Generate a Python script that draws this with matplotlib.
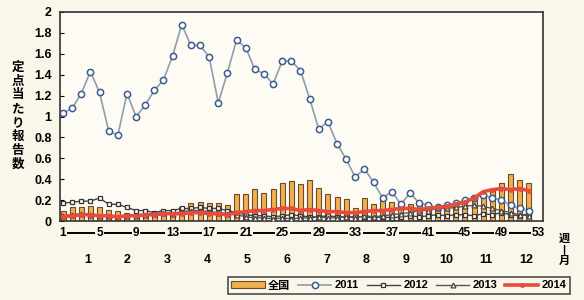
import matplotlib
matplotlib.use("Agg")
import matplotlib.pyplot as plt
import matplotlib.transforms as mtransforms
import numpy as np

plt.rcParams['font.family'] = ['Liberation Sans', 'Noto Sans CJK JP', 'DejaVu Sans']
plt.rcParams['font.weight'] = 'bold'

weeks = list(range(1, 53))
national = [0.10, 0.13, 0.13, 0.14, 0.13, 0.11, 0.10, 0.08, 0.07, 0.07, 0.08, 0.08, 0.10,
            0.13, 0.17, 0.18, 0.17, 0.17, 0.15, 0.26, 0.26, 0.31, 0.27, 0.31, 0.36, 0.38,
            0.35, 0.39, 0.32, 0.26, 0.23, 0.21, 0.12, 0.22, 0.16, 0.20, 0.18, 0.16, 0.16,
            0.16, 0.14, 0.14, 0.15, 0.17, 0.19, 0.22, 0.26, 0.29, 0.36, 0.45, 0.39, 0.36]
y2011 = [1.03, 1.08, 1.22, 1.43, 1.23, 0.86, 0.82, 1.22, 1.00, 1.11, 1.25, 1.35, 1.58,
         1.88, 1.68, 1.68, 1.57, 1.13, 1.42, 1.73, 1.66, 1.45, 1.41, 1.31, 1.53, 1.53,
         1.44, 1.17, 0.88, 0.95, 0.74, 0.59, 0.42, 0.50, 0.37, 0.22, 0.28, 0.16, 0.27,
         0.17, 0.15, 0.13, 0.15, 0.17, 0.20, 0.22, 0.25, 0.22, 0.20, 0.15, 0.12, 0.10]
y2012 = [0.17, 0.18, 0.19, 0.19, 0.22, 0.16, 0.16, 0.13, 0.10, 0.10, 0.08, 0.10, 0.10,
         0.12, 0.12, 0.13, 0.12, 0.12, 0.10, 0.08, 0.06, 0.05, 0.05, 0.04, 0.05, 0.06,
         0.05, 0.04, 0.04, 0.05, 0.04, 0.04, 0.04, 0.04, 0.03, 0.04, 0.03, 0.04, 0.05,
         0.04, 0.05, 0.06, 0.05, 0.06, 0.06, 0.05, 0.07, 0.06, 0.08, 0.06, 0.05, 0.07]
y2013 = [0.05, 0.06, 0.07, 0.06, 0.05, 0.05, 0.04, 0.05, 0.05, 0.06, 0.07, 0.08, 0.07,
         0.09, 0.10, 0.10, 0.09, 0.08, 0.07, 0.06, 0.04, 0.03, 0.03, 0.02, 0.03, 0.02,
         0.03, 0.03, 0.04, 0.03, 0.03, 0.04, 0.03, 0.05, 0.04, 0.05, 0.06, 0.07, 0.08,
         0.10, 0.10, 0.12, 0.12, 0.13, 0.14, 0.15, 0.14, 0.12, 0.10, 0.08, 0.06, 0.05]
y2014 = [0.04, 0.05, 0.06, 0.06, 0.05, 0.05, 0.04, 0.05, 0.05, 0.06, 0.06, 0.07, 0.07,
         0.07, 0.08, 0.08, 0.07, 0.07, 0.06, 0.08, 0.09, 0.10, 0.10, 0.11, 0.12, 0.12,
         0.10, 0.11, 0.10, 0.09, 0.09, 0.08, 0.08, 0.09, 0.10, 0.10, 0.11, 0.12, 0.12,
         0.11, 0.12, 0.13, 0.14, 0.16, 0.18, 0.22, 0.28, 0.30, 0.31, 0.30, 0.31, 0.29]

week_ticks = [1, 5, 9, 13, 17, 21, 25, 29, 33, 37, 41, 45, 49, 53]
month_labels = ['1', '2', '3', '4', '5', '6', '7', '8', '9', '10', '11', '12']
y_ticks = [0, 0.2, 0.4, 0.6, 0.8, 1.0, 1.2, 1.4, 1.6, 1.8, 2.0]
y_ticklabels = ['0', '0.2', '0.4', '0.6', '0.8', '1', '1.2', '1.4', '1.6', '1.8', '2']
legend_labels = ['全国', '2011', '2012', '2013', '2014']

BG = '#f9f6ea'
fig = plt.figure(figsize=(5.84, 3.0), dpi=100, facecolor=BG)
ax = fig.add_axes([60/584, 1 - 221/300, 483/584, 209/300], facecolor='#fdfbf4')

h0 = ax.bar(weeks, national, width=0.55, color='#f0b04e', edgecolor='#6e4a2c', linewidth=0.8,
            label=legend_labels[0], zorder=2)
h1, = ax.plot(weeks, y2011, color='#8d9eac', lw=1.2, marker='o', ms=4.5, mfc='white',
              mec='#3b5c8c', mew=1.1, label=legend_labels[1], zorder=4)
h2, = ax.plot(weeks, y2012, color='#444444', lw=1.0, marker='s', ms=3.5, mfc='white',
              mec='#333333', mew=0.9, label=legend_labels[2], zorder=3)
h3, = ax.plot(weeks, y2013, color='#555555', lw=1.0, marker='^', ms=3.5, mfc='white',
              mec='#444444', mew=0.9, label=legend_labels[3], zorder=3)
h4, = ax.plot(weeks, y2014, color='#ea4a3c', lw=2.6, marker='o', ms=2.5, mfc='#ea4a3c',
              mec='#ea4a3c', label=legend_labels[4], zorder=5)

ax.set_ylim(0, 2)
ax.set_xlim(0.67, 53.55)
ax.set_yticks(y_ticks)
ax.set_yticklabels(y_ticklabels, fontsize=9, fontweight='bold')
ax.tick_params(axis='y', direction='in', length=3, width=0.8, pad=6)
ax.set_xticks([])
for s in ['left', 'top', 'right', 'bottom']:
    ax.spines[s].set_color('#333333')
    ax.spines[s].set_linewidth(1.2)

trans = mtransforms.blended_transform_factory(ax.transData, ax.transAxes)
ax.plot([week_ticks[0], week_ticks[-1]], [-0.057, -0.057], color='black', lw=1.4,
        transform=trans, clip_on=False)
for w in week_ticks:
    ax.text(w, -0.057, str(w), transform=trans, ha='center', va='center', fontsize=8.5,
            fontweight='bold', bbox=dict(facecolor=BG, edgecolor='none', pad=0.6))
for i, m in enumerate(month_labels):
    ax.text(3.7 + i * 4.36, -0.187, m, transform=trans, ha='center', va='center',
            fontsize=9, fontweight='bold')

fig.text(18/584, 1 - 116/300, '定\n点\n当\nた\nり\n報\n告\n数', ha='center', va='center',
         fontsize=9, fontweight='bold', linespacing=1.2)
fig.text(564/584, 1 - 250/300, '週\n|\n月', ha='center', va='center', fontsize=8,
         fontweight='bold', linespacing=1.1)

leg = fig.legend(handles=[h0, h1, h2, h3, h4], labels=legend_labels,
                 loc='center', bbox_to_anchor=(399/584, 1 - 285.5/300), ncol=5,
                 fontsize=8, frameon=True, fancybox=False, handlelength=3.0,
                 handletextpad=0.3, columnspacing=0.7, borderpad=0.3, handleheight=0.6)
leg.get_frame().set_edgecolor('#222222')
leg.get_frame().set_linewidth(1.2)
leg.get_frame().set_facecolor(BG)

fig.savefig('out.png', dpi=100, facecolor=BG)
